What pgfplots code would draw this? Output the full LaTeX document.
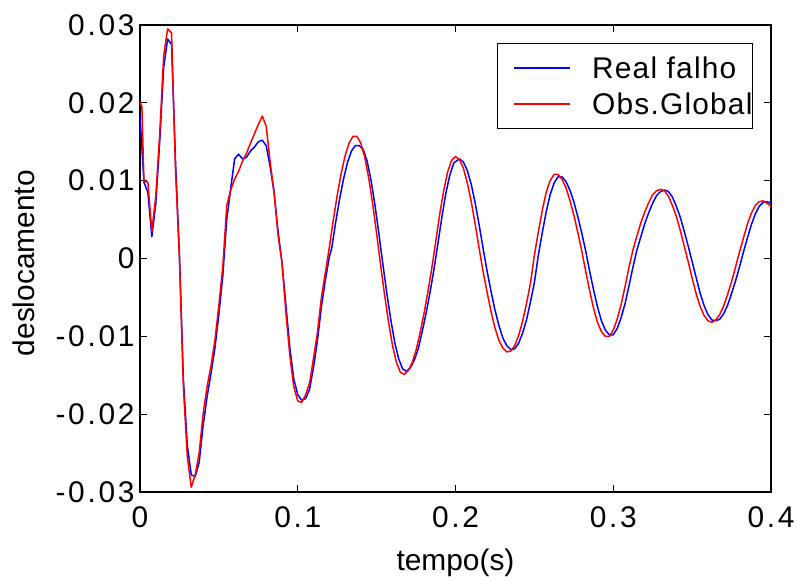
\documentclass[border=0pt]{standalone}
\usepackage{fontspec}
\setmainfont{Liberation Sans}
\newfontfamily\tickfont[LetterSpace=9]{Liberation Sans}
\newfontfamily\legfont[LetterSpace=4]{Liberation Sans}
\usepackage{pgfplots}
\pgfplotsset{compat=1.18}
\begin{document}
\begin{tikzpicture}
\useasboundingbox (-140bp,-89bp) rectangle (657bp,492bp);
\begin{axis}[
  at={(0,0)}, anchor=south west,
  scale only axis, width=631bp, height=467bp,
  xmin=0, xmax=0.4, ymin=-0.03, ymax=0.03,
  xtick={0,0.1,0.2,0.3,0.4},
  xticklabels={0,0.1,0.2,0.3,0.4},
  ytick={-0.03,-0.02,-0.01,0,0.01,0.02,0.03},
  yticklabels={-0.03,-0.02,-0.01,0,0.01,0.02,0.03},
  scaled ticks=false,
  tick align=inside, xtick pos=both, ytick pos=both,
  major tick length=7bp,
  axis line style={line width=1.3bp},
  tick style={line width=1.1bp, black},
  ticklabel style={font=\tickfont\fontsize{30}{36}\selectfont},
  xticklabel style={yshift=-11bp},
  yticklabel style={xshift=-2bp},
  xlabel={tempo(s)}, ylabel={deslocamento},
  label style={font=\fontsize{30}{36}\selectfont},
  xlabel style={at={([yshift=-78bp]axis description cs:0.5,0)}, anchor=base},
  ylabel style={at={([xshift=-105bp]axis description cs:0,0.49)}, anchor=base, rotate=0},
  legend cell align=left,
  legend style={at={(0.9715,0.9615)}, anchor=north east, draw=black, line width=1.1bp,
    font=\legfont\fontsize{30}{36}\selectfont, inner xsep=0bp, inner ysep=6.5bp, row sep=0bp,
    nodes={inner sep=0bp}},
  legend image code/.code={\path[draw=none,fill=none] (-17bp,-18bp) rectangle (78bp,18bp);
    \draw[#1, line width=1.3bp] (0bp,0bp) -- (56bp,0bp);},
]
\addplot[sharp plot, draw=blue, line width=1.5bp, line join=round] table[x=t, y=v] {
t v
0.0000 0.0183
0.0025 0.0098
0.0050 0.0085
0.0075 0.0028
0.0100 0.0070
0.0125 0.0150
0.0150 0.0245
0.0175 0.0282
0.0200 0.0275
0.0225 0.0125
0.0250 0.0005
0.0275 -0.0155
0.0300 -0.0240
0.0325 -0.0278
0.0350 -0.0280
0.0375 -0.0262
0.0400 -0.0215
0.0425 -0.0178
0.0450 -0.0148
0.0475 -0.0115
0.0500 -0.0072
0.0525 -0.0022
0.0550 0.0050
0.0575 0.0090
0.0600 0.0128
0.0625 0.0134
0.0650 0.0128
0.0675 0.0130
0.0700 0.0138
0.0725 0.0143
0.0750 0.0150
0.0775 0.0152
0.0800 0.0145
0.0825 0.0118
0.0850 0.0085
0.0875 0.0035
0.0900 -0.0005
0.0925 -0.0060
0.0950 -0.0115
0.0975 -0.0155
0.1000 -0.0175
0.1025 -0.0182
0.1050 -0.0180
0.1075 -0.0168
0.1100 -0.0140
0.1125 -0.0105
0.1150 -0.0062
0.1175 -0.0028
0.1200 0.0002
0.1215 0.0013
0.1240 0.0046
0.1265 0.0076
0.1290 0.0102
0.1315 0.0123
0.1340 0.0138
0.1365 0.0145
0.1390 0.0145
0.1415 0.0140
0.1440 0.0125
0.1465 0.0100
0.1490 0.0068
0.1515 0.0031
0.1540 -0.0008
0.1565 -0.0045
0.1590 -0.0079
0.1615 -0.0108
0.1640 -0.0129
0.1665 -0.0142
0.1690 -0.0145
0.1715 -0.0140
0.1740 -0.0130
0.1765 -0.0115
0.1790 -0.0093
0.1815 -0.0069
0.1840 -0.0042
0.1865 -0.0012
0.1890 0.0021
0.1915 0.0055
0.1940 0.0085
0.1965 0.0108
0.1990 0.0123
0.2025 0.0128
0.2050 0.0124
0.2075 0.0113
0.2100 0.0095
0.2125 0.0071
0.2150 0.0043
0.2175 0.0013
0.2200 -0.0016
0.2225 -0.0042
0.2250 -0.0066
0.2275 -0.0086
0.2300 -0.0102
0.2325 -0.0112
0.2350 -0.0117
0.2375 -0.0116
0.2400 -0.0109
0.2425 -0.0096
0.2450 -0.0079
0.2475 -0.0056
0.2500 -0.0031
0.2525 0.0004
0.2550 0.0033
0.2575 0.0060
0.2600 0.0082
0.2625 0.0097
0.2650 0.0105
0.2675 0.0105
0.2700 0.0099
0.2725 0.0088
0.2750 0.0073
0.2775 0.0054
0.2800 0.0033
0.2825 0.0010
0.2850 -0.0016
0.2875 -0.0040
0.2900 -0.0062
0.2925 -0.0080
0.2950 -0.0092
0.2975 -0.0098
0.3000 -0.0098
0.3025 -0.0090
0.3050 -0.0076
0.3075 -0.0058
0.3100 -0.0035
0.3125 -0.0011
0.3150 0.0011
0.3175 0.0028
0.3200 0.0045
0.3225 0.0059
0.3250 0.0071
0.3275 0.0081
0.3300 0.0086
0.3325 0.0088
0.3350 0.0086
0.3375 0.0079
0.3400 0.0067
0.3425 0.0053
0.3450 0.0035
0.3475 0.0016
0.3500 -0.0004
0.3525 -0.0024
0.3550 -0.0044
0.3575 -0.0060
0.3600 -0.0072
0.3625 -0.0079
0.3650 -0.0080
0.3675 -0.0078
0.3700 -0.0071
0.3725 -0.0060
0.3750 -0.0045
0.3775 -0.0029
0.3800 -0.0011
0.3825 0.0008
0.3850 0.0026
0.3875 0.0043
0.3900 0.0057
0.3925 0.0067
0.3950 0.0072
0.3975 0.0073
0.4000 0.0071
};
\addlegendentry{Real falho\hspace{26bp}}
\addplot[sharp plot, draw=red, line width=1.5bp, line join=round] table[x=t, y=v] {
t v
0.0000 0.0201
0.0012 0.0195
0.0025 0.0099
0.0050 0.0098
0.0075 0.0035
0.0100 0.0080
0.0125 0.0160
0.0150 0.0260
0.0175 0.0295
0.0200 0.0290
0.0225 0.0115
0.0250 0.0000
0.0275 -0.0165
0.0300 -0.0255
0.0325 -0.0294
0.0350 -0.0278
0.0375 -0.0250
0.0400 -0.0200
0.0425 -0.0165
0.0450 -0.0138
0.0475 -0.0105
0.0500 -0.0060
0.0525 -0.0010
0.0550 0.0068
0.0575 0.0088
0.0600 0.0102
0.0625 0.0112
0.0650 0.0125
0.0675 0.0135
0.0700 0.0148
0.0725 0.0160
0.0750 0.0172
0.0775 0.0183
0.0800 0.0170
0.0825 0.0124
0.0850 0.0085
0.0875 0.0030
0.0900 -0.0005
0.0925 -0.0070
0.0950 -0.0125
0.0975 -0.0165
0.1000 -0.0183
0.1025 -0.0185
0.1050 -0.0175
0.1075 -0.0160
0.1100 -0.0128
0.1125 -0.0095
0.1150 -0.0050
0.1175 -0.0018
0.1200 0.0014
0.1225 0.0049
0.1250 0.0081
0.1275 0.0109
0.1300 0.0132
0.1325 0.0148
0.1350 0.0157
0.1375 0.0157
0.1400 0.0148
0.1425 0.0130
0.1450 0.0103
0.1475 0.0070
0.1500 0.0032
0.1525 -0.0008
0.1550 -0.0046
0.1575 -0.0081
0.1600 -0.0111
0.1625 -0.0133
0.1650 -0.0146
0.1675 -0.0149
0.1700 -0.0144
0.1725 -0.0134
0.1750 -0.0118
0.1775 -0.0096
0.1800 -0.0071
0.1825 -0.0043
0.1850 -0.0012
0.1875 0.0022
0.1900 0.0057
0.1925 0.0087
0.1950 0.0111
0.1975 0.0126
0.2000 0.0131
0.2025 0.0127
0.2050 0.0116
0.2075 0.0097
0.2100 0.0073
0.2125 0.0044
0.2150 0.0013
0.2175 -0.0017
0.2200 -0.0043
0.2225 -0.0068
0.2250 -0.0089
0.2275 -0.0105
0.2300 -0.0115
0.2325 -0.0120
0.2350 -0.0119
0.2375 -0.0112
0.2400 -0.0099
0.2425 -0.0081
0.2450 -0.0058
0.2475 -0.0032
0.2500 0.0004
0.2525 0.0034
0.2550 0.0062
0.2575 0.0085
0.2600 0.0100
0.2625 0.0108
0.2650 0.0108
0.2675 0.0102
0.2700 0.0091
0.2725 0.0075
0.2750 0.0056
0.2775 0.0034
0.2800 0.0010
0.2825 -0.0016
0.2850 -0.0041
0.2875 -0.0064
0.2900 -0.0082
0.2925 -0.0094
0.2950 -0.0100
0.2975 -0.0100
0.3000 -0.0092
0.3025 -0.0078
0.3050 -0.0059
0.3075 -0.0036
0.3100 -0.0011
0.3125 0.0011
0.3150 0.0029
0.3175 0.0046
0.3200 0.0060
0.3225 0.0072
0.3250 0.0082
0.3275 0.0087
0.3300 0.0089
0.3325 0.0087
0.3350 0.0080
0.3375 0.0068
0.3400 0.0054
0.3425 0.0036
0.3450 0.0016
0.3475 -0.0004
0.3500 -0.0025
0.3525 -0.0045
0.3550 -0.0061
0.3575 -0.0073
0.3600 -0.0080
0.3625 -0.0082
0.3650 -0.0079
0.3675 -0.0072
0.3700 -0.0061
0.3725 -0.0046
0.3750 -0.0030
0.3775 -0.0011
0.3800 0.0008
0.3825 0.0026
0.3850 0.0044
0.3875 0.0058
0.3900 0.0068
0.3925 0.0073
0.3950 0.0074
0.3975 0.0071
0.4000 0.0067
};
\addlegendentry{Obs.Global\hspace{26bp}}
\end{axis}
\end{tikzpicture}
\end{document}
